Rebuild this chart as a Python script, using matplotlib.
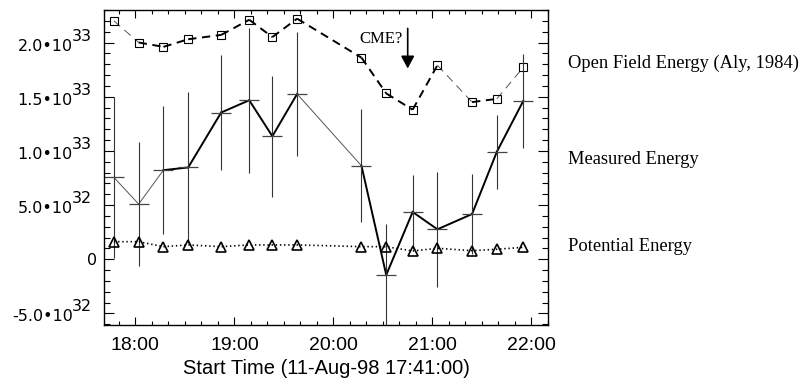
"""
Energy of the active region vs. time, 11-Aug-98
"""

import matplotlib

matplotlib.use("Agg")
import matplotlib.pyplot as plt
import matplotlib.dates as mdates
import pandas as pd

plt.rcParams["lines.scale_dashes"] = False

DAY = "1998-08-11"

# start times of the magnetograms
times = ["17:47", "18:02", "18:17", "18:32", "18:52", "19:09", "19:23", "19:38",
         "20:17", "20:32", "20:48", "21:03", "21:24", "21:39", "21:55"]

# energies in erg
open_field = [2.20e33, 2.00e33, 1.96e33, 2.03e33, 2.07e33, 2.21e33, 2.05e33, 2.22e33,
              1.86e33, 1.53e33, 1.38e33, 1.79e33, 1.45e33, 1.48e33, 1.77e33]
measured = [7.55e32, 5.09e32, 8.22e32, 8.47e32, 1.354e33, 1.467e33, 1.135e33, 1.525e33,
            8.62e32, -1.45e32, 4.36e32, 2.76e32, 4.17e32, 9.91e32, 1.460e33]
measured_err = [7.4e32, 5.7e32, 5.9e32, 7.0e32, 5.3e32, 6.7e32, 5.6e32, 5.7e32,
                5.2e32, 4.7e32, 3.4e32, 5.3e32, 3.7e32, 3.4e32, 4.3e32]
potential = [1.62e32, 1.62e32, 1.16e32, 1.32e32, 1.16e32, 1.32e32, 1.32e32, 1.32e32,
             1.16e32, 1.16e32, 7.6e31, 1.01e32, 7.9e31, 9.2e31, 1.10e32]

ytick_values = [-5e32, 0, 5e32, 1e33, 1.5e33, 2e33]

# segments drawn with a thin line in the original
measured_thin = [0, 1, 7]
open_thin = [0, 11, 13]

series_labels = ["Open Field Energy (Aly, 1984)", "Measured Energy", "Potential Energy"]
series_label_y = [1.81e33, 9.17e32, 1.14e32]

cme_time = "20:45"
cme_top, cme_tip, cme_text_y = 2.13e33, 1.76e33, 2.0e33


def to_dt(hhmm):
    return pd.to_datetime(f"{DAY} {hhmm}")


def draw_segments(ax, x, y, thin, thick_kw, thin_kw):
    for i in range(len(x) - 1):
        kw = thin_kw if i in thin else thick_kw
        ax.plot(x[i:i + 2], y[i:i + 2], **kw)


t = [to_dt(s) for s in times]

fig = plt.figure(figsize=(8.04, 3.82), dpi=100)
ax = fig.add_axes([104 / 804, 1 - 325 / 382, 444 / 804, 315 / 382])

# open field energy: dashed line with open squares
draw_segments(
    ax, t, open_field, open_thin,
    dict(color="black", lw=1.4, dashes=(6, 4)),
    dict(color="#555555", lw=0.7, dashes=(6, 4)),
)
ax.plot(t, open_field, ls="none", marker="s", ms=6, mfc="none", mec="black", mew=0.8)

# measured energy: solid line with error bars
draw_segments(
    ax, t, measured, measured_thin,
    dict(color="black", lw=1.4),
    dict(color="#555555", lw=0.7),
)
ax.errorbar(t, measured, yerr=measured_err, fmt="none", ecolor="#333333",
            elinewidth=0.8, capsize=0)
ax.plot(t, measured, ls="none", marker="_", ms=15, mec="#444444", mew=0.9)

# potential energy: dotted line with open triangles
ax.plot(t, potential, color="black", lw=1.2, dashes=(1, 2))
ax.plot(t, potential, ls="none", marker="^", ms=6.5, mfc="none", mec="black", mew=1.2)

# CME marker
ax.annotate("", xy=(to_dt(cme_time), cme_tip), xytext=(to_dt(cme_time), cme_top),
            arrowprops=dict(arrowstyle="-|>,head_length=0.75,head_width=0.4",
                            color="black", lw=1.2, shrinkA=0, shrinkB=0,
                            mutation_scale=10))
ax.annotate("CME?", xy=(to_dt(cme_time), cme_text_y), xytext=(-5, 0),
            textcoords="offset pixels", ha="right", va="baseline",
            family="Liberation Serif", size=12)

# axes
ax.set_xlim(to_dt("17:41"), to_dt("22:10"))
ax.set_ylim(-6.07e32, 2.30e33)
ax.xaxis.set_major_locator(mdates.HourLocator())
ax.xaxis.set_minor_locator(mdates.MinuteLocator(byminute=range(0, 60, 10)))
ax.xaxis.set_major_formatter(mdates.DateFormatter("%H:%M"))
ax.set_yticks(ytick_values)
ax.yaxis.set_minor_locator(plt.MultipleLocator(1e32))
ax.tick_params(which="both", direction="in", top=True, right=True, width=0.8,
               labelleft=False, labelsize=14, pad=9)
ax.tick_params(axis="x", which="major", length=5.5)
ax.tick_params(axis="x", which="minor", length=3)
ax.tick_params(axis="y", which="major", length=7)
ax.tick_params(axis="y", which="minor", length=4)
for lab in ax.get_xticklabels():
    lab.set_family("Liberation Sans")
for sp in ax.spines.values():
    sp.set_linewidth(1.0)

ax.set_xlabel("Start Time (11-Aug-98 17:41:00)", family="Liberation Sans",
              size=14.5, labelpad=3)

# y tick labels of the form m.m•10^ee with a full size exponent
ytrans = ax.get_yaxis_transform()
for v in ytick_values:
    if v == 0:
        ax.annotate("0", xy=(0, v), xycoords=ytrans, xytext=(-7, -6),
                    textcoords="offset pixels", ha="right", va="baseline",
                    family="DejaVu Sans", size=11.5)
        continue
    mant, exp = f"{v:.1e}".split("e")
    ax.annotate(f"{mant}\u202210", xy=(0, v), xycoords=ytrans, xytext=(-31, -8),
                textcoords="offset pixels", ha="right", va="baseline",
                family="DejaVu Sans", size=11.5)
    ax.annotate(str(int(exp)), xy=(0, v), xycoords=ytrans, xytext=(-32, 2),
                textcoords="offset pixels", ha="left", va="baseline",
                family="DejaVu Sans", size=11.5)

# series names on the right
for name, yv in zip(series_labels, series_label_y):
    ax.annotate(name, xy=(1, yv), xycoords=ytrans, xytext=(20, 0),
                textcoords="offset pixels", ha="left", va="center",
                family="Liberation Serif", size=13.3, annotation_clip=False)

fig.savefig("out.png", dpi=100)
